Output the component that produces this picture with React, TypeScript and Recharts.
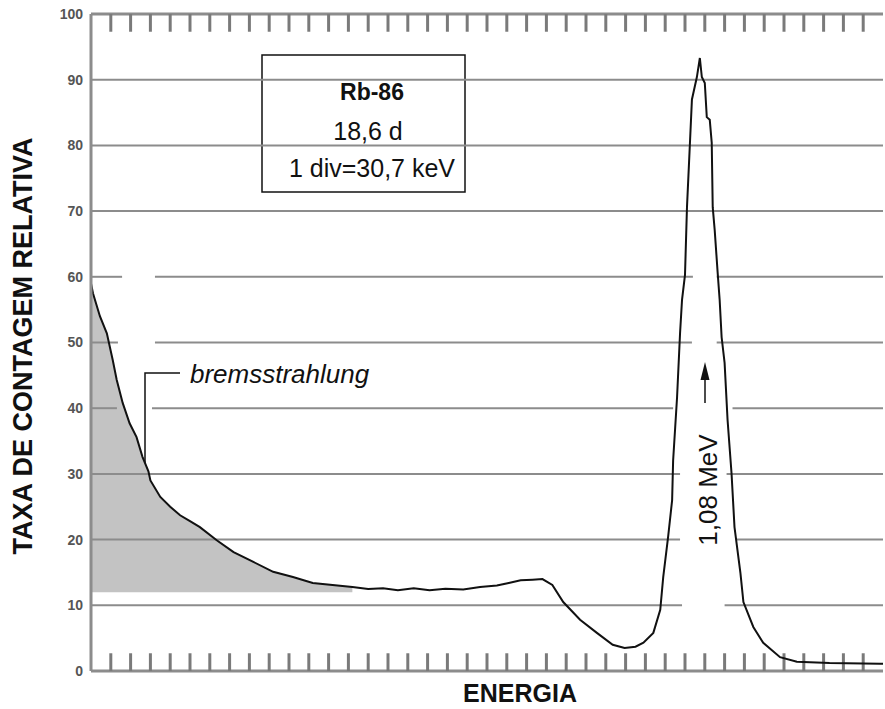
import React from 'react';
import {
  ComposedChart,
  Line,
  Area,
  XAxis,
  YAxis,
  ReferenceLine,
  Customized,
} from 'recharts';

// energy in divisions (1 div = 30,7 keV), counts in relative units
const energy = [
  0, 0.1, 0.45, 0.8, 1.1, 1.3, 1.6, 1.95, 2.3, 2.6, 2.9, 3.0, 3.5, 4.0, 4.5, 5.0, 5.5, 6.35, 7.2,
  8.2, 9.2, 10.2, 11.2, 12.2, 13.2, 14.0, 14.75, 15.5, 16.3, 17.1, 17.9, 18.8, 19.65, 20.5, 21.1,
  21.7, 22.3, 22.8, 23.3, 23.85, 24.7, 25.55, 26.35, 26.95, 27.5, 27.9, 28.4, 28.75, 28.9, 29.15,
  29.35, 29.4, 29.6, 29.75, 29.85, 30.0, 30.1, 30.25, 30.35, 30.6, 30.75, 30.85, 31.0, 31.1, 31.25,
  31.35, 31.4, 31.5, 31.65, 31.75, 31.85, 32.0, 32.15, 32.35, 32.5, 32.8, 32.95, 33.45, 33.95,
  34.8, 35.65, 37.3, 39.85, 40,
];
const counts = [
  59, 57.5, 54, 51.4, 47.3, 44.3, 40.8, 37.7, 35.6, 32.6, 30.4, 29.0, 26.5, 25.0, 23.7, 22.8, 21.9,
  19.9, 18.1, 16.6, 15.1, 14.3, 13.4, 13.1, 12.8, 12.5, 12.6, 12.3, 12.6, 12.3, 12.5, 12.4, 12.8,
  13.0, 13.4, 13.8, 13.9, 14.0, 13.1, 10.5, 7.8, 5.8, 4.0, 3.5, 3.7, 4.3, 5.8, 9.3, 14.3, 20.5,
  26, 32, 41.7, 51.4, 56.5, 60.3, 70.6, 80.4, 87, 90.4, 93.3, 90.4, 89.5, 84.3, 83.9, 80.4, 70.6,
  67.1, 60.6, 56.5, 50.8, 46.9, 38.2, 30.1, 21.9, 14.9, 10.5, 6.7, 4.3, 2.1, 1.4, 1.2, 1.1, 1.1,
];

// shaded bremsstrahlung region
const bremsFloor = 12;
const bremsEnd = 13.2;

const yTicks = [0, 10, 20, 30, 40, 50, 60, 70, 80, 90, 100];
const divTicks = Array.from({ length: 39 }, (_, i) => i + 1);

// horizontal grid lines, as [level, from, to] pieces (the scan has breaks in them)
const gridPieces: [number, number, number][] = [
  [90, 0, 40],
  [80, 0, 40],
  [70, 0, 40],
  [60, 0, 1.57], [60, 3.23, 30.4], [60, 31.6, 40],
  [50, 0, 1.36], [50, 3.23, 30.35], [50, 31.6, 40],
  [40, 0, 1.31], [40, 3.08, 29.4], [40, 32.4, 40],
  [30, 0, 29.75], [30, 32.1, 40],
  [20, 0, 29.75], [20, 32.6, 40],
  [10, 0, 29.85], [10, 32.0, 40],
];

const data = energy.map((e, i) => ({
  e,
  c: counts[i],
  brems: e <= bremsEnd ? [bremsFloor, counts[i]] : null,
}));

const FONT = '"Liberation Sans", Arial, Helvetica, sans-serif';
const GRID = '#8c8c8c';

const Annotations = () => (
  <g fontFamily={FONT} fill="#111">
    <rect x={262} y={55} width={203} height={137} fill="#fff" stroke="#111" strokeWidth={1.5} />
    <text x={372} y={100} textAnchor="middle" fontSize={23} fontWeight={700}>
      Rb-86
    </text>
    <text x={368} y={140} textAnchor="middle" fontSize={25}>
      18,6 d
    </text>
    <text x={372} y={177} textAnchor="middle" fontSize={25}>
      1 div=30,7 keV
    </text>

    <text x={190} y={383} fontSize={26} fontStyle="italic">
      bremsstrahlung
    </text>
    <path d="M180,373 H145 V505" fill="none" stroke="#111" strokeWidth={1.5} />
    <polygon points="140.5,500 149.5,500 145,518" fill="#111" />

    <text
      transform="translate(708,490) rotate(-90)"
      textAnchor="middle"
      dominantBaseline="central"
      fontSize={26}
    >
      1,08 MeV
    </text>
    <line x1={705} y1={403} x2={705} y2={372} stroke="#111" strokeWidth={1.5} />
    <polygon points="700.5,380 709.5,380 705,362" fill="#111" />

    <text
      transform="translate(23,346) rotate(-90)"
      textAnchor="middle"
      dominantBaseline="central"
      fontSize={27}
      fontWeight={700}
    >
      TAXA DE CONTAGEM RELATIVA
    </text>
    <text x={520} y={702} textAnchor="middle" fontSize={25} fontWeight={700}>
      ENERGIA
    </text>
  </g>
);

export default function App() {
  return (
    <div style={{ position: 'absolute', left: 0, top: 0, width: 885, height: 709, background: '#fff' }}>
      <ComposedChart
        width={885}
        height={709}
        data={data}
        margin={{ top: 14, right: 2, bottom: 38, left: 0 }}
      >
        <XAxis type="number" dataKey="e" domain={[0, 40]} hide />
        <YAxis
          type="number"
          domain={[0, 100]}
          ticks={yTicks}
          interval={0}
          width={91}
          tickLine={false}
          axisLine={{ stroke: GRID, strokeWidth: 3 }}
          tick={{ fill: '#555', fontSize: 14, fontWeight: 700, fontFamily: FONT }}
        />
        <Area
          dataKey="brems"
          type="linear"
          fill="#c3c3c3"
          fillOpacity={1}
          stroke="none"
          isAnimationActive={false}
          connectNulls={false}
        />
        {gridPieces.map(([lvl, a, b], i) => (
          <ReferenceLine
            key={`g${i}`}
            segment={[{ x: a, y: lvl }, { x: b, y: lvl }]}
            stroke={GRID}
            strokeWidth={2}
          />
        ))}
        <ReferenceLine y={100} stroke={GRID} strokeWidth={3} />
        <ReferenceLine y={0} stroke={GRID} strokeWidth={3} />
        {divTicks.map((k) => (
          <ReferenceLine
            key={`t${k}`}
            segment={[{ x: k, y: 100 }, { x: k, y: 97.3 }]}
            stroke="#7a7a7a"
            strokeWidth={3}
          />
        ))}
        {divTicks.map((k) => (
          <ReferenceLine
            key={`b${k}`}
            segment={[{ x: k, y: 0 }, { x: k, y: 2.7 }]}
            stroke="#7a7a7a"
            strokeWidth={3}
          />
        ))}
        <Line
          dataKey="c"
          type="linear"
          stroke="#111"
          strokeWidth={2}
          dot={false}
          isAnimationActive={false}
        />
        <Customized component={Annotations} />
      </ComposedChart>
    </div>
  );
}
